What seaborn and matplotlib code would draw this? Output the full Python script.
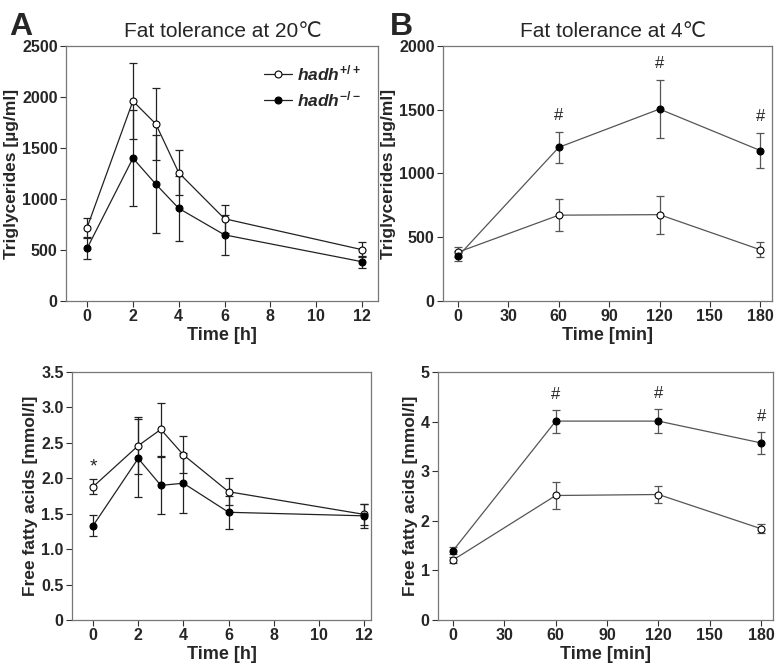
import seaborn as sns
import matplotlib.pyplot as plt
import pandas as pd

# time points
time_h = [0, 2, 3, 4, 6, 12]
time_min = [0, 60, 120, 180]

# fat tolerance at 20 C - triglycerides [ug/ml]
tg20_wt = [720, 1960, 1735, 1257, 806, 503]
tg20_wt_sem = [90, 375, 350, 220, 135, 72]
tg20_ko = [516, 1400, 1145, 908, 648, 385]
tg20_ko_sem = [105, 470, 480, 322, 197, 60]

# fat tolerance at 20 C - free fatty acids [mmol/l]
ffa20_wt = [1.88, 2.46, 2.69, 2.33, 1.81, 1.49]
ffa20_wt_sem = [0.105, 0.40, 0.37, 0.26, 0.19, 0.15]
ffa20_ko = [1.33, 2.28, 1.90, 1.93, 1.52, 1.47]
ffa20_ko_sem = [0.15, 0.55, 0.40, 0.42, 0.235, 0.17]

# fat tolerance at 4 C - triglycerides [ug/ml]
tg4_wt = [383, 673, 677, 402]
tg4_wt_sem = [40, 128, 150, 60]
tg4_ko = [351, 1205, 1505, 1180]
tg4_ko_sem = [40, 120, 230, 135]

# fat tolerance at 4 C - free fatty acids [mmol/l]
ffa4_wt = [1.21, 2.51, 2.53, 1.84]
ffa4_wt_sem = [0.06, 0.27, 0.18, 0.095]
ffa4_ko = [1.40, 4.01, 4.01, 3.57]
ffa4_ko_sem = [0.07, 0.23, 0.24, 0.23]

sns.set_style('white')
plt.rcParams['font.family'] = ['Liberation Sans', 'DejaVu Sans']
plt.rcParams['mathtext.fontset'] = 'custom'
plt.rcParams['mathtext.it'] = 'Liberation Sans:bold:italic'
plt.rcParams['mathtext.rm'] = 'Liberation Sans:bold'
plt.rcParams['mathtext.bf'] = 'Liberation Sans:bold'

fig = plt.figure(figsize=(7.75, 6.65), dpi=100)
ax_a1 = fig.add_axes([0.0852, 0.5474, 0.4026, 0.3835])
ax_b1 = fig.add_axes([0.5716, 0.5474, 0.4245, 0.3835])
ax_a2 = fig.add_axes([0.0929, 0.0677, 0.3858, 0.3729])
ax_b2 = fig.add_axes([0.5652, 0.0677, 0.4323, 0.3729])

LBL_WT = r'$\it{hadh}^{+/+}$'
LBL_KO = r'$\it{hadh}^{-/-}$'


def draw(ax, x, wt, wt_sem, ko, ko_sem, color):
    df = pd.DataFrame({'x': x, 'wt': wt, 'ko': ko})
    ax.errorbar(x, wt, yerr=wt_sem, fmt='none', ecolor=color, elinewidth=0.9,
                capsize=2.6, capthick=0.9, zorder=2)
    ax.errorbar(x, ko, yerr=ko_sem, fmt='none', ecolor=color, elinewidth=0.9,
                capsize=2.6, capthick=0.9, zorder=2)
    sns.lineplot(data=df, x='x', y='wt', ax=ax, color=color, lw=0.9, marker='o',
                 markersize=5, markerfacecolor='white', markeredgecolor='black',
                 markeredgewidth=0.8, label=LBL_WT, zorder=3)
    sns.lineplot(data=df, x='x', y='ko', ax=ax, color=color, lw=0.9, marker='o',
                 markersize=5, markerfacecolor='black', markeredgecolor='black',
                 markeredgewidth=0.8, label=LBL_KO, zorder=3)


def style(ax, xlabel, ylabel, xticks, yticks, yticklabels, xlim, ylim):
    ax.set_xlim(*xlim)
    ax.set_ylim(*ylim)
    ax.set_xticks(xticks)
    ax.set_yticks(yticks)
    ax.set_yticklabels(yticklabels)
    ax.set_xlabel(xlabel, fontsize=13, fontweight='bold', labelpad=2)
    ax.set_ylabel(ylabel, fontsize=12.5, fontweight='bold', labelpad=2)
    ax.tick_params(direction='out', length=4, width=0.8, labelsize=11.5,
                   bottom=True, left=True, pad=2, color='#333333')
    for lab in ax.get_xticklabels() + ax.get_yticklabels():
        lab.set_fontweight('bold')
    for sp in ax.spines.values():
        sp.set_visible(True)
        sp.set_color('#777777')
        sp.set_linewidth(0.9)


draw(ax_a1, time_h, tg20_wt, tg20_wt_sem, tg20_ko, tg20_ko_sem, '#222222')
draw(ax_a2, time_h, ffa20_wt, ffa20_wt_sem, ffa20_ko, ffa20_ko_sem, '#222222')
draw(ax_b1, time_min, tg4_wt, tg4_wt_sem, tg4_ko, tg4_ko_sem, '#555555')
draw(ax_b2, time_min, ffa4_wt, ffa4_wt_sem, ffa4_ko, ffa4_ko_sem, '#555555')

style(ax_a1, 'Time [h]', 'Triglycerides [µg/ml]', [0, 2, 4, 6, 8, 10, 12],
      [0, 500, 1000, 1500, 2000, 2500], ['0', '500', '1000', '1500', '2000', '2500'],
      (-0.92, 12.7), (0, 2500))
style(ax_a2, 'Time [h]', 'Free fatty acids [mmol/l]', [0, 2, 4, 6, 8, 10, 12],
      [0, 0.5, 1, 1.5, 2, 2.5, 3, 3.5],
      ['0', '0.5', '1.0', '1.5', '2.0', '2.5', '3.0', '3.5'],
      (-0.93, 12.3), (0, 3.5))
style(ax_b1, 'Time [min]', 'Triglycerides [µg/ml]', [0, 30, 60, 90, 120, 150, 180],
      [0, 500, 1000, 1500, 2000], ['0', '500', '1000', '1500', '2000'],
      (-9, 187), (0, 2000))
style(ax_b2, 'Time [min]', 'Free fatty acids [mmol/l]', [0, 30, 60, 90, 120, 150, 180],
      [0, 1, 2, 3, 4, 5], ['0', '1', '2', '3', '4', '5'],
      (-8.8, 187), (0, 5))

# legend only in panel A top
ax_a1.legend(loc='upper right', frameon=False, fontsize=12.5, handlelength=1.6,
             handletextpad=0.3, labelspacing=0.35, borderaxespad=0.6)
for ax in (ax_a2, ax_b1, ax_b2):
    ax.get_legend().remove()

# significance marks
ax_a2.annotate('*', (time_h[0], ffa20_wt[0] + ffa20_wt_sem[0]), xytext=(0, 9),
               textcoords='offset points', ha='center', va='center', fontsize=14)
for x, y, s in zip(time_min[1:], tg4_ko[1:], tg4_ko_sem[1:]):
    ax_b1.annotate('#', (x, y + s), xytext=(0, 12), textcoords='offset points',
                   ha='center', va='center', fontsize=12)
for x, y, s in zip(time_min[1:], ffa4_ko[1:], ffa4_ko_sem[1:]):
    ax_b2.annotate('#', (x, y + s), xytext=(0, 11), textcoords='offset points',
                   ha='center', va='center', fontsize=12)

# titles and panel letters
fig.text(0.287, 0.953, 'Fat tolerance at 20℃', ha='center', va='center', fontsize=15)
fig.text(0.791, 0.953, 'Fat tolerance at 4℃', ha='center', va='center', fontsize=15)
fig.text(0.012, 0.960, 'A', ha='left', va='center', fontsize=23, fontweight='bold')
fig.text(0.503, 0.960, 'B', ha='left', va='center', fontsize=23, fontweight='bold')

fig.savefig('out.png', dpi=100)
